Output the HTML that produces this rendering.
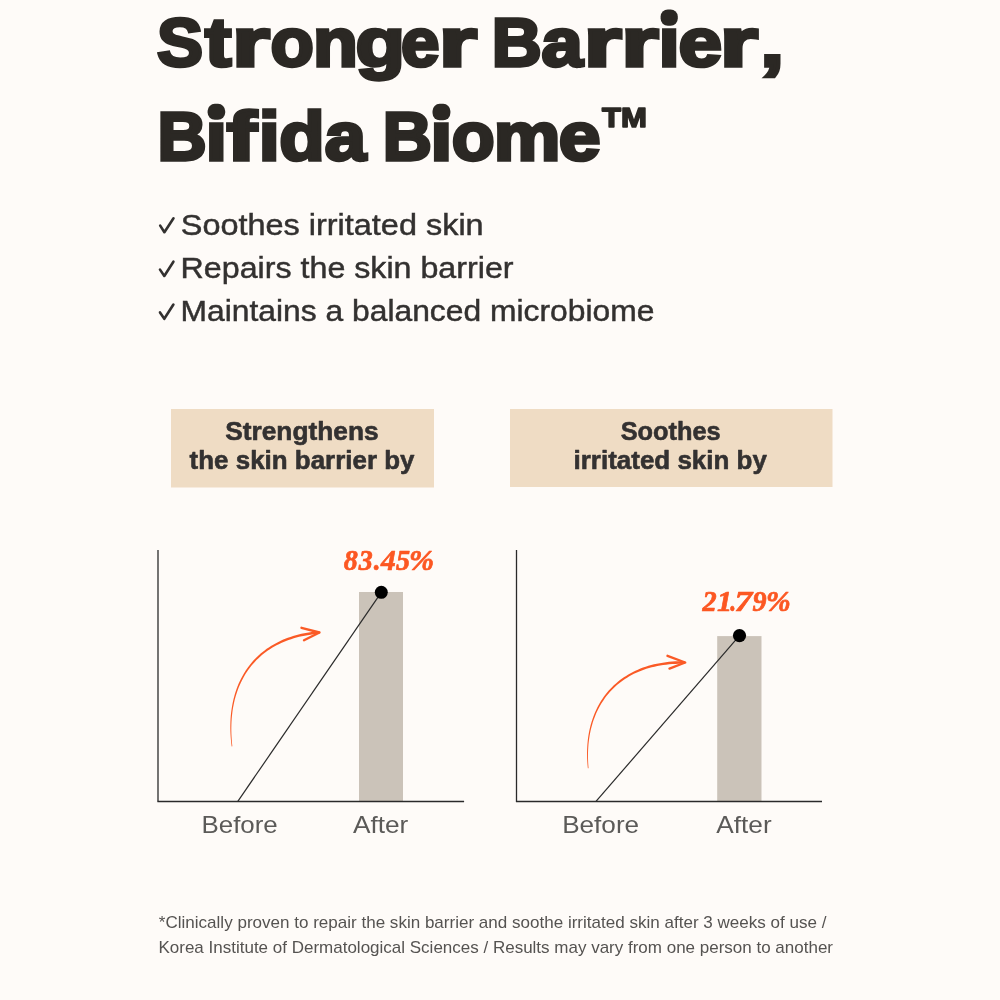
<!DOCTYPE html>
<html><head><meta charset="utf-8">
<style>
html,body{margin:0;padding:0;background:#fefbf8;width:1000px;height:1000px;overflow:hidden}
svg{display:block;will-change:transform}
.h{font-family:"Liberation Sans",sans-serif;font-weight:700;fill:#2b2824;stroke:#2b2824;stroke-width:3.4px;stroke-linejoin:miter;stroke-miterlimit:3}
.tm{font-family:"Liberation Sans",sans-serif;font-weight:700;fill:#2b2824;stroke:#2b2824;stroke-width:1.6px;stroke-linejoin:round}
.c{font-family:"Liberation Sans",sans-serif;font-weight:400;fill:#333130;stroke:#333130;stroke-width:0.45px}
.b{font-family:"Liberation Sans",sans-serif;font-weight:700;fill:#333131;stroke:#333131;stroke-width:0.6px;stroke-linejoin:round}
.l{font-family:"Liberation Sans",sans-serif;font-weight:400;fill:#5b5a58}
.p{font-family:"Liberation Serif",serif;font-weight:700;font-style:italic;fill:#fc5722;stroke:#fc5722;stroke-width:0.7px;stroke-linejoin:round}
.f{font-family:"Liberation Sans",sans-serif;font-weight:400;fill:#555351}
</style></head><body>
<svg width="1000" height="1000" viewBox="0 0 1000 1000">
<rect width="1000" height="1000" fill="#fefbf8"/>
<text class="h" x="157.0" y="66.3" font-size="69" textLength="46.02" lengthAdjust="spacingAndGlyphs">S</text>
<text class="h" x="205.0" y="66.3" font-size="69" textLength="26.42" lengthAdjust="spacingAndGlyphs">t</text>
<text class="h" x="232.1" y="66.3" font-size="69" textLength="37.79" lengthAdjust="spacingAndGlyphs">r</text>
<text class="h" x="270.54" y="66.3" font-size="69" textLength="43.34" lengthAdjust="spacingAndGlyphs">o</text>
<text class="h" x="313.06" y="66.3" font-size="69" textLength="44.88" lengthAdjust="spacingAndGlyphs">n</text>
<text class="h" x="355.44" y="66.3" font-size="69" textLength="49.58" lengthAdjust="spacingAndGlyphs">g</text>
<text class="h" x="401.0" y="66.3" font-size="69" textLength="38.47" lengthAdjust="spacingAndGlyphs">e</text>
<text class="h" x="438.86" y="66.3" font-size="69" textLength="38.21" lengthAdjust="spacingAndGlyphs">r</text>
<text class="h" x="491.89" y="66.3" font-size="69" textLength="49.98" lengthAdjust="spacingAndGlyphs">B</text>
<text class="h" x="541.63" y="66.3" font-size="69" textLength="41.3" lengthAdjust="spacingAndGlyphs">a</text>
<text class="h" x="583.69" y="66.3" font-size="69" textLength="37.92" lengthAdjust="spacingAndGlyphs">r</text>
<text class="h" x="621.33" y="66.3" font-size="69" textLength="37.37" lengthAdjust="spacingAndGlyphs">r</text>
<text class="h" x="658.47" y="66.3" font-size="69" textLength="21.19" lengthAdjust="spacingAndGlyphs">ı</text>
<text class="h" x="678.42" y="66.3" font-size="69" textLength="43.56" lengthAdjust="spacingAndGlyphs">e</text>
<text class="h" x="719.66" y="66.3" font-size="69" textLength="38.21" lengthAdjust="spacingAndGlyphs">r</text>
<text class="h" x="760.15" y="66.3" font-size="69" textLength="23.88" lengthAdjust="spacingAndGlyphs">,</text>
<text class="h" x="157.54" y="160.3" font-size="69" textLength="49.12" lengthAdjust="spacingAndGlyphs">B</text>
<text class="h" x="205.62" y="160.3" font-size="69" textLength="21.48" lengthAdjust="spacingAndGlyphs">ı</text>
<text class="h" x="226.67" y="160.3" font-size="69" textLength="29.95" lengthAdjust="spacingAndGlyphs">f</text>
<text class="h" x="258.78" y="160.3" font-size="69" textLength="21.03" lengthAdjust="spacingAndGlyphs">i</text>
<text class="h" x="279.15" y="160.3" font-size="69" textLength="45.43" lengthAdjust="spacingAndGlyphs">d</text>
<text class="h" x="324.83" y="160.3" font-size="69" textLength="41.3" lengthAdjust="spacingAndGlyphs">a</text>
<text class="h" x="382.74" y="160.3" font-size="69" textLength="49.12" lengthAdjust="spacingAndGlyphs">B</text>
<text class="h" x="430.33" y="160.3" font-size="69" textLength="22.06" lengthAdjust="spacingAndGlyphs">ı</text>
<text class="h" x="451.75" y="160.3" font-size="69" textLength="42.93" lengthAdjust="spacingAndGlyphs">o</text>
<text class="h" x="493.75" y="160.3" font-size="69" textLength="66.69" lengthAdjust="spacingAndGlyphs">m</text>
<text class="h" x="558.87" y="160.3" font-size="69" textLength="41.84" lengthAdjust="spacingAndGlyphs">e</text>
<text class="tm" x="602.01" y="126.7" font-size="28" textLength="44.89" lengthAdjust="spacingAndGlyphs">TM</text>
<rect x="660.6" y="9.4" width="17.2" height="16.4" rx="7.2" fill="#2b2824"/>
<rect x="207.6" y="103.8" width="17.6" height="16" rx="7.2" fill="#2b2824"/>
<rect x="432.5" y="103.8" width="17.9" height="16.5" rx="7.2" fill="#2b2824"/>
<path d="M160.2,225.6 L164.4,232.2 L173.5,218.3" fill="none" stroke="#333130" stroke-width="2.6" stroke-linecap="round" stroke-linejoin="round"/>
<path d="M160.0,269.6 L164.3,276.0 L173.4,261.7" fill="none" stroke="#333130" stroke-width="2.6" stroke-linecap="round" stroke-linejoin="round"/>
<path d="M160.0,312.4 L164.3,318.8 L173.4,304.5" fill="none" stroke="#333130" stroke-width="2.6" stroke-linecap="round" stroke-linejoin="round"/>
<text class="c" x="180.78" y="234.8" font-size="29.4" textLength="302.88" lengthAdjust="spacingAndGlyphs">Soothes irritated skin</text>
<text class="c" x="180.62" y="278.2" font-size="29.4" textLength="332.91" lengthAdjust="spacingAndGlyphs">Repairs the skin barrier</text>
<text class="c" x="180.52" y="320.7" font-size="29.4" textLength="473.84" lengthAdjust="spacingAndGlyphs">Maintains a balanced microbiome</text>
<rect x="171" y="409" width="263" height="78.5" fill="#efdcc4"/>
<rect x="510" y="409" width="322.5" height="78" fill="#efdcc4"/>
<text class="b" x="225.19" y="440" font-size="26" textLength="153.43" lengthAdjust="spacingAndGlyphs">Strengthens</text>
<text class="b" x="189.62" y="469" font-size="26" textLength="224.83" lengthAdjust="spacingAndGlyphs">the skin barrier by</text>
<text class="b" x="620.73" y="440" font-size="26" textLength="99.97" lengthAdjust="spacingAndGlyphs">Soothes</text>
<text class="b" x="573.5" y="469" font-size="26" textLength="193.38" lengthAdjust="spacingAndGlyphs">irritated skin by</text>
<rect x="359" y="592" width="44" height="209.4" fill="#cbc3b9"/>
<rect x="717.2" y="636.1" width="44.3" height="165.3" fill="#cbc3b9"/>
<line x1="158.0" y1="550" x2="158.0" y2="801.4" stroke="#2a2a2a" stroke-width="1.3"/>
<line x1="516.5" y1="550" x2="516.5" y2="801.4" stroke="#2a2a2a" stroke-width="1.3"/>
<line x1="157.4" y1="801.5" x2="464.1" y2="801.5" stroke="#2a2a2a" stroke-width="1.4"/>
<line x1="515.9" y1="801.5" x2="822" y2="801.5" stroke="#2a2a2a" stroke-width="1.4"/>
<line x1="237.8" y1="801.4" x2="381.3" y2="592.3" stroke="#2a2a2a" stroke-width="1.2"/>
<line x1="596" y1="801.4" x2="739.5" y2="635.6" stroke="#2a2a2a" stroke-width="1.2"/>
<circle cx="381.3" cy="592.3" r="6.5" fill="#000"/>
<circle cx="739.5" cy="635.6" r="6.6" fill="#000"/>
<path d="M232.35,746.36 L232.02,743.16 L231.75,739.99 L231.54,736.86 L231.40,733.77 L231.33,730.71 L231.32,727.68 L231.38,724.70 L231.50,721.75 L231.69,718.84 L231.94,715.97 L232.25,713.14 L232.63,710.34 L233.08,707.59 L233.59,704.88 L234.16,702.21 L234.79,699.58 L235.48,697.00 L236.24,694.46 L237.06,691.96 L237.94,689.50 L238.88,687.10 L239.88,684.73 L240.94,682.42 L242.06,680.15 L243.24,677.92 L244.48,675.75 L245.78,673.62 L247.14,671.54 L248.55,669.51 L250.03,667.53 L251.56,665.60 L253.14,663.72 L254.79,661.89 L256.49,660.11 L258.24,658.39 L260.05,656.72 L261.92,655.10 L263.84,653.53 L265.82,652.02 L267.85,650.57 L269.94,649.17 L272.08,647.82 L274.28,646.53 L276.53,645.30 L278.83,644.13 L281.18,643.01 L283.59,641.95 L286.05,640.96 L288.57,640.02 L291.13,639.14 L293.75,638.32 L296.42,637.56 L299.14,636.87 L301.91,636.24 L304.73,635.67 L307.60,635.17 L310.53,634.73 L313.50,634.35 L316.52,634.04 L319.61,633.80 L319.39,631.20 L316.28,631.48 L313.20,631.82 L310.17,632.23 L307.19,632.70 L304.26,633.24 L301.38,633.85 L298.56,634.52 L295.78,635.26 L293.06,636.05 L290.39,636.92 L287.78,637.84 L285.21,638.83 L282.70,639.87 L280.25,640.98 L277.84,642.15 L275.50,643.38 L273.20,644.66 L270.97,646.01 L268.79,647.41 L266.66,648.87 L264.60,650.38 L262.59,651.96 L260.63,653.58 L258.74,655.26 L256.90,657.00 L255.12,658.78 L253.40,660.62 L251.74,662.51 L250.14,664.45 L248.60,666.45 L247.12,668.49 L245.70,670.58 L244.34,672.72 L243.04,674.90 L241.80,677.14 L240.62,679.42 L239.51,681.75 L238.46,684.12 L237.47,686.53 L236.54,688.99 L235.68,691.49 L234.88,694.04 L234.14,696.63 L233.47,699.25 L232.86,701.92 L232.32,704.63 L231.84,707.38 L231.42,710.17 L231.07,713.00 L230.79,715.86 L230.57,718.76 L230.42,721.70 L230.34,724.67 L230.32,727.68 L230.37,730.73 L230.48,733.80 L230.67,736.92 L230.93,740.06 L231.25,743.24 L231.65,746.44Z" fill="#fa5a26"/>
<path d="M301.5,627.8 L319.5,632.5 L304,640.3" fill="none" stroke="#fa5a26" stroke-width="2.4" stroke-linecap="round" stroke-linejoin="round"/>
<path d="M588.55,768.17 L588.31,765.07 L588.13,762.02 L588.02,758.99 L587.98,755.99 L588.00,753.03 L588.10,750.10 L588.26,747.21 L588.48,744.35 L588.78,741.53 L589.14,738.75 L589.56,736.00 L590.06,733.29 L590.62,730.62 L591.24,728.00 L591.93,725.41 L592.68,722.86 L593.50,720.36 L594.39,717.90 L595.33,715.49 L596.34,713.12 L597.41,710.79 L598.55,708.51 L599.75,706.28 L601.01,704.10 L602.33,701.97 L603.71,699.88 L605.15,697.85 L606.66,695.87 L608.22,693.93 L609.85,692.06 L611.53,690.23 L613.27,688.46 L615.08,686.74 L616.94,685.08 L618.86,683.47 L620.84,681.92 L622.87,680.43 L624.97,679.00 L627.12,677.63 L629.33,676.31 L631.59,675.06 L633.92,673.87 L636.30,672.74 L638.73,671.67 L641.22,670.66 L643.77,669.73 L646.38,668.85 L649.03,668.04 L651.75,667.30 L654.52,666.63 L657.34,666.02 L660.22,665.49 L663.15,665.02 L666.14,664.63 L669.18,664.31 L672.27,664.06 L675.42,663.88 L678.62,663.78 L681.87,663.75 L685.19,663.80 L685.21,661.20 L681.87,661.18 L678.55,661.23 L675.29,661.36 L672.09,661.57 L668.94,661.85 L665.84,662.20 L662.79,662.63 L659.80,663.13 L656.87,663.70 L653.98,664.35 L651.16,665.06 L648.39,665.85 L645.68,666.70 L643.02,667.62 L640.42,668.61 L637.88,669.66 L635.39,670.78 L632.96,671.96 L630.60,673.21 L628.29,674.52 L626.04,675.89 L623.85,677.32 L621.71,678.81 L619.64,680.37 L617.63,681.98 L615.68,683.64 L613.80,685.37 L611.97,687.15 L610.21,688.98 L608.50,690.87 L606.86,692.81 L605.29,694.80 L603.77,696.85 L602.32,698.94 L600.94,701.09 L599.62,703.28 L598.36,705.52 L597.17,707.81 L596.04,710.14 L594.98,712.52 L593.98,714.94 L593.05,717.41 L592.18,719.92 L591.38,722.47 L590.65,725.06 L589.98,727.69 L589.39,730.36 L588.85,733.06 L588.39,735.81 L587.99,738.59 L587.67,741.41 L587.41,744.26 L587.22,747.15 L587.09,750.07 L587.04,753.02 L587.06,756.00 L587.15,759.02 L587.31,762.06 L587.54,765.13 L587.85,768.23Z" fill="#fa5a26"/>
<path d="M667.5,655.8 L685.2,662.5 L669.5,668.6" fill="none" stroke="#fa5a26" stroke-width="2.4" stroke-linecap="round" stroke-linejoin="round"/>
<text class="p" x="343.64" y="570.1" font-size="29.8" textLength="14.04" lengthAdjust="spacingAndGlyphs">8</text>
<text class="p" x="358.64" y="570.1" font-size="29.8" textLength="14.01" lengthAdjust="spacingAndGlyphs">3</text>
<text class="p" x="373.67" y="570.1" font-size="29.8" textLength="6.77" lengthAdjust="spacingAndGlyphs">.</text>
<text class="p" x="381.09" y="570.1" font-size="29.8" textLength="14.78" lengthAdjust="spacingAndGlyphs">4</text>
<text class="p" x="395.89" y="570.1" font-size="29.8" textLength="14.12" lengthAdjust="spacingAndGlyphs">5</text>
<text class="p" x="409.09" y="570.1" font-size="29.8" textLength="25.04" lengthAdjust="spacingAndGlyphs">%</text>
<text class="p" x="702.61" y="610.8" font-size="29.8" textLength="14.17" lengthAdjust="spacingAndGlyphs">2</text>
<text class="p" x="717.07" y="610.8" font-size="29.8" textLength="15.12" lengthAdjust="spacingAndGlyphs">1</text>
<text class="p" x="730.15" y="610.8" font-size="29.8" textLength="5.86" lengthAdjust="spacingAndGlyphs">.</text>
<text class="p" x="734.64" y="610.8" font-size="29.8" textLength="17.74" lengthAdjust="spacingAndGlyphs">7</text>
<text class="p" x="752.54" y="610.8" font-size="29.8" textLength="14.04" lengthAdjust="spacingAndGlyphs">9</text>
<text class="p" x="765.92" y="610.8" font-size="29.8" textLength="24.68" lengthAdjust="spacingAndGlyphs">%</text>
<text class="l" x="201.5" y="832.6" font-size="23.4" textLength="76.24" lengthAdjust="spacingAndGlyphs">Before</text>
<text class="l" x="352.94" y="832.6" font-size="23.4" textLength="55.43" lengthAdjust="spacingAndGlyphs">After</text>
<text class="l" x="562.2" y="832.6" font-size="23.4" textLength="76.92" lengthAdjust="spacingAndGlyphs">Before</text>
<text class="l" x="716.34" y="832.6" font-size="23.4" textLength="55.31" lengthAdjust="spacingAndGlyphs">After</text>
<text class="f" x="158.84" y="927.5" font-size="16.4" textLength="667.57" lengthAdjust="spacingAndGlyphs">*Clinically proven to repair the skin barrier and soothe irritated skin after 3 weeks of use /</text>
<text class="f" x="158.48" y="952.75" font-size="16.4" textLength="674.56" lengthAdjust="spacingAndGlyphs">Korea Institute of Dermatological Sciences / Results may vary from one person to another</text>
</svg>
</body></html>
